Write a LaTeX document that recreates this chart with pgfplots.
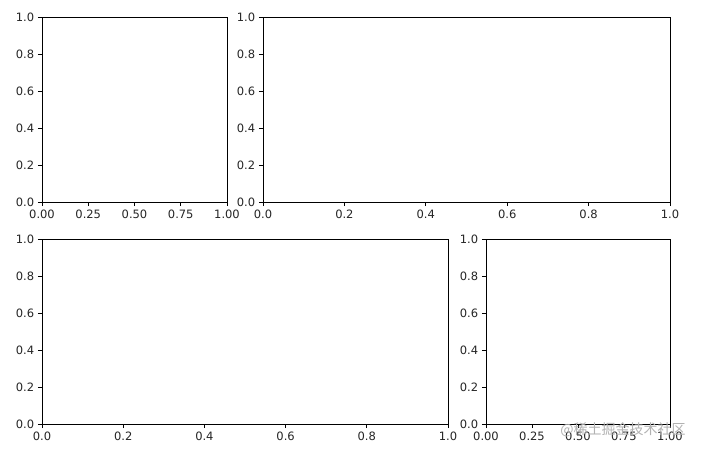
\documentclass[border=0pt]{standalone}
\usepackage{pgfplots}
\pgfplotsset{compat=1.18}
\usepackage{fontspec}
\setmainfont{DejaVu Sans}
\newfontfamily\cjk{Noto Sans CJK SC}
\pgfplotsset{
  mpl/.style={
    scale only axis,
    xmin=0, xmax=1, ymin=0, ymax=1,
    axis line style={line width=0.95bp, black},
    every tick/.style={line width=0.95bp, black},
    tick align=outside,
    major tick length=4.2bp,
    xtick pos=left, ytick pos=left,
    ytick={0,0.2,0.4,0.6,0.8,1.0},
    tick label style={font=\fontsize{11.5bp}{13bp}\selectfont, text=black!85, inner sep=3.5bp},
    /pgf/number format/assume math mode=true,
    /pgf/number format/.cd, fixed, zerofill, precision=1,
    /pgfplots/.cd,
    scaled ticks=false,
    anchor=south west,
  },
  narrow/.style={
    xtick={0,0.25,0.5,0.75,1.0},
    xticklabel style={/pgf/number format/precision=2},
  },
  wide/.style={
    xtick={0,0.2,0.4,0.6,0.8,1.0},
  },
}
\begin{document}
\begin{tikzpicture}
\path[fill=white] (0bp,0bp) rectangle (705bp,457bp);
\begin{axis}[mpl, narrow, at={(42bp,255bp)}, width=185bp, height=185bp]
\end{axis}
\begin{axis}[mpl, wide, at={(263bp,255bp)}, width=407bp, height=185bp]
\end{axis}
\begin{axis}[mpl, wide, at={(42bp,33bp)}, width=406bp, height=185bp]
\end{axis}
\begin{axis}[mpl, narrow, at={(486bp,33bp)}, width=184bp, height=185bp]
\end{axis}
\node[text=black!30, font=\cjk\fontsize{14bp}{16bp}\selectfont, anchor=center, inner sep=0pt] at (623bp,27bp) {@稀土掘金技术社区};
\end{tikzpicture}
\end{document}
